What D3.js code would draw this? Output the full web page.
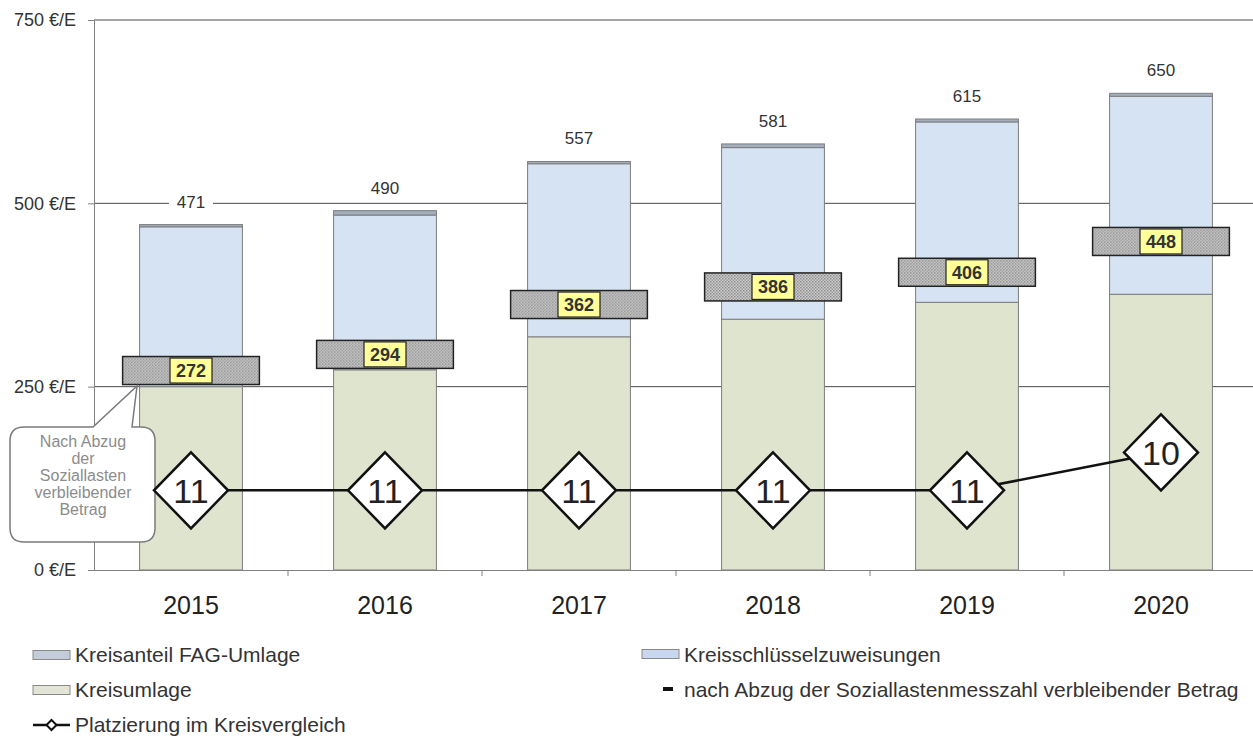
<!DOCTYPE html>
<html>
<head>
<meta charset="utf-8">
<script src="https://cdn.jsdelivr.net/npm/d3@7"></script>
<style>
  html, body { margin: 0; padding: 0; background: #fff; }
  svg { display: block; font-family: "Liberation Sans", Arial, sans-serif; }
</style>
</head>
<body>
<svg id="chart" width="1253" height="738"></svg>
<script>
// Per-inhabitant amounts (€/E) by year
const years = ["2015", "2016", "2017", "2018", "2019", "2020"];
const kreisumlage = [250, 273, 318, 342, 365, 376];
const kreisschluessel = [218, 211, 236, 234, 246, 270];
const fagUmlage = [3, 6, 3, 5, 4, 4];
// amount remaining after deducting the social-burden index
const verbleibend = [272, 294, 362, 386, 406, 448];
// rank among the districts
const platzierung = [11, 11, 11, 11, 11, 10];
const yTicks = [0, 250, 500, 750];

const seriesKeys = ["kreisumlage", "kreisschluessel", "fagUmlage"];
const seriesColors = { kreisumlage: "#dfe4cf", kreisschluessel: "#d6e3f3", fagUmlage: "#a3aebf" };

const rows = years.map((yr, i) => ({
  year: yr,
  kreisumlage: kreisumlage[i],
  kreisschluessel: kreisschluessel[i],
  fagUmlage: fagUmlage[i]
}));

const svg = d3.select("#chart");

const x = d3.scaleBand().domain(years).range([94, 1258]).paddingInner(0.47).paddingOuter(0.235);
const y = d3.scaleLinear().domain([0, 750]).range([570, 20]);
const yRank = d3.scaleLinear().domain([-1.4, 13.1]).range([20, 570]);

// hatch pattern for the "remaining amount" markers
const defs = svg.append("defs");
const pat = defs.append("pattern").attr("id", "hatch").attr("width", 3).attr("height", 3)
  .attr("patternUnits", "userSpaceOnUse");
pat.append("rect").attr("width", 3).attr("height", 3).attr("fill", "#cfcfcf");
pat.append("rect").attr("width", 1.5).attr("height", 1.5).attr("fill", "#8a8a8a");
pat.append("rect").attr("x", 1.5).attr("y", 1.5).attr("width", 1.5).attr("height", 1.5).attr("fill", "#9a9a9a");

// gridlines
svg.append("g").selectAll("line").data(yTicks.filter(d => d > 0)).join("line")
  .attr("x1", 94).attr("x2", 1253)
  .attr("y1", d => y(d)).attr("y2", d => y(d))
  .attr("stroke", "#4a4a4a").attr("stroke-width", 1);

// y axis
const yAxis = svg.append("g").attr("transform", "translate(94,0)")
  .call(d3.axisLeft(y).tickValues(yTicks).tickFormat(d => d + " €/E").tickSize(6).tickPadding(12));
yAxis.select(".domain").attr("stroke", "#808080");
yAxis.selectAll(".tick line").attr("stroke", "#808080");
yAxis.selectAll("text").attr("font-size", 18).attr("fill", "#333").attr("font-family", "Liberation Sans, Arial, sans-serif");

// stacked bars
const stack = d3.stack().keys(seriesKeys)(rows);
svg.append("g").selectAll("g").data(stack).join("g")
  .attr("fill", d => seriesColors[d.key])
  .selectAll("rect").data(d => d).join("rect")
  .attr("x", d => x(d.data.year))
  .attr("width", x.bandwidth())
  .attr("y", d => y(d[1]))
  .attr("height", d => y(d[0]) - y(d[1]))
  .attr("stroke", "#7d7d7d").attr("stroke-width", 1);

// x axis
const xAxis = svg.append("g").attr("transform", "translate(0,570)")
  .call(d3.axisBottom(x).tickSize(0).tickPadding(26));
xAxis.select(".domain").attr("stroke", "#808080");
xAxis.selectAll("text").attr("font-size", 25).attr("fill", "#222").attr("font-family", "Liberation Sans, Arial, sans-serif");
const boundaries = years.map(yr => x(yr) - x.step() * x.paddingInner() / 2);
svg.append("g").selectAll("line").data(boundaries.slice(1)).join("line")
  .attr("x1", d => d).attr("x2", d => d).attr("y1", 570).attr("y2", 576)
  .attr("stroke", "#808080");

// totals above bars
const totals = rows.map(r => r.kreisumlage + r.kreisschluessel + r.fagUmlage);
const totG = svg.append("g").selectAll("g").data(years).join("g")
  .attr("transform", (d, i) => `translate(${x(d) + x.bandwidth() / 2},${y(totals[i]) - 23})`);
totG.append("rect").attr("x", -22).attr("y", -10).attr("width", 44).attr("height", 20).attr("fill", "#fff");
totG.append("text").attr("text-anchor", "middle").attr("dy", "0.35em")
  .attr("font-size", 17).attr("fill", "#333").text((d, i) => totals[i]);

// remaining-amount markers
const mW = x.step() * 0.705, mH = 28;
const mk = svg.append("g").selectAll("g").data(years).join("g")
  .attr("transform", (d, i) => `translate(${x(d) + x.bandwidth() / 2},${y(verbleibend[i])})`);
mk.append("rect").attr("x", -mW / 2).attr("y", -mH / 2).attr("width", mW).attr("height", mH)
  .attr("fill", "url(#hatch)").attr("stroke", "#222").attr("stroke-width", 1.5);
mk.append("rect").attr("x", -21).attr("y", -12.5).attr("width", 42).attr("height", 25)
  .attr("fill", "#ffff99").attr("stroke", "#222").attr("stroke-width", 1.2);
mk.append("text").attr("text-anchor", "middle").attr("dy", "0.36em")
  .attr("font-size", 18).attr("font-weight", "bold").attr("fill", "#333")
  .text((d, i) => verbleibend[i]);

// callout
const cL = 10, cR = 155, cT = 427, cB = 542, r = 14;
const tip = [137, 386];
svg.append("path")
  .attr("d", `M${cL + r},${cT} L93,${cT} L${tip[0]},${tip[1]} L132,${cT} L${cR - r},${cT}
    Q${cR},${cT} ${cR},${cT + r} L${cR},${cB - r} Q${cR},${cB} ${cR - r},${cB}
    L${cL + r},${cB} Q${cL},${cB} ${cL},${cB - r} L${cL},${cT + r} Q${cL},${cT} ${cL + r},${cT} Z`)
  .attr("fill", "#fff").attr("stroke", "#7a7a7a").attr("stroke-width", 1.5);
const calloutLines = ["Nach Abzug", "der", "Soziallasten", "verbleibender", "Betrag"];
svg.append("g").selectAll("text").data(calloutLines).join("text")
  .attr("x", 83).attr("y", (d, i) => 441 + i * 17).attr("dy", "0.35em")
  .attr("text-anchor", "middle").attr("font-size", 16).attr("fill", "#8c8c8c").text(d => d);

// ranking line and diamonds
const pts = years.map((yr, i) => [x(yr) + x.bandwidth() / 2, yRank(platzierung[i])]);
svg.append("path").datum(pts).attr("d", d3.line())
  .attr("fill", "none").attr("stroke", "#111").attr("stroke-width", 2.5);
const dm = svg.append("g").selectAll("g").data(pts).join("g")
  .attr("transform", d => `translate(${d[0]},${d[1]})`);
dm.append("path").attr("d", "M0,-38 L37,0 L0,38 L-37,0 Z")
  .attr("fill", "#fff").attr("stroke", "#111").attr("stroke-width", 2.5);
dm.append("text").attr("text-anchor", "middle").attr("dy", "0.36em")
  .attr("font-size", 34).attr("fill", "#222").text((d, i) => platzierung[i]);

// legend
const leg = svg.append("g").attr("font-size", 21).attr("fill", "#333");
function swatch(x0, yc, w, fill) {
  leg.append("rect").attr("x", x0).attr("y", yc - 4.5).attr("width", w).attr("height", 9)
    .attr("fill", fill).attr("stroke", "#8a8a8a").attr("stroke-width", 1);
}
function label(x0, yc, t) {
  leg.append("text").attr("x", x0).attr("y", yc).attr("dy", "0.35em").text(t);
}
swatch(33, 655, 37, "#c3ccd8"); label(75, 655, "Kreisanteil FAG-Umlage");
swatch(33, 690, 37, "#e2e5d5"); label(75, 690, "Kreisumlage");
leg.append("line").attr("x1", 33).attr("x2", 70).attr("y1", 725).attr("y2", 725).attr("stroke", "#111").attr("stroke-width", 2.5);
leg.append("path").attr("d", "M51.5,720 L56.5,725 L51.5,730 L46.5,725 Z").attr("fill", "#fff").attr("stroke", "#111").attr("stroke-width", 2);
label(75, 725, "Platzierung im Kreisvergleich");
swatch(642, 654, 37, "#c9d6ef"); label(684, 655, "Kreisschlüsselzuweisungen");
leg.append("rect").attr("x", 663).attr("y", 687).attr("width", 10).attr("height", 4).attr("fill", "#111");
label(684, 690, "nach Abzug der Soziallastenmesszahl verbleibender Betrag");
</script>
</body>
</html>
